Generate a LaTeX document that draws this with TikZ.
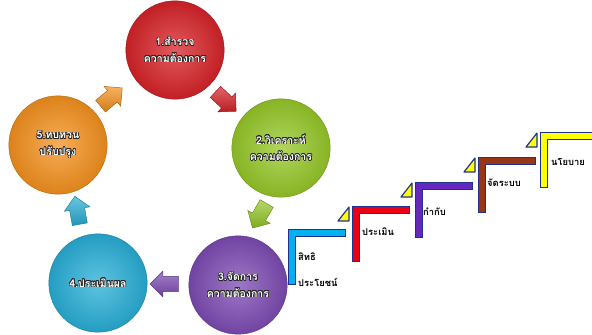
\documentclass[tikz,border=0pt]{standalone}
\usepackage{fontspec}
\usepackage{tikz}
\usetikzlibrary{calc,shapes.arrows}
\usepackage[copies]{contour}
\newfontfamily\thaifont[Script=Thai]{Loma}
\contourlength{0.5pt}

\definecolor{redball}{RGB}{215,35,40}
\definecolor{greenball}{RGB}{150,200,40}
\definecolor{purpleball}{RGB}{125,75,180}
\definecolor{cyanball}{RGB}{40,175,215}
\definecolor{orangeball}{RGB}{245,145,30}
\definecolor{stepblue}{RGB}{0,176,240}
\definecolor{stepred}{RGB}{235,0,20}
\definecolor{steppurple}{RGB}{100,40,190}
\definecolor{stepbrown}{RGB}{150,55,25}
\definecolor{stepyellow}{RGB}{255,255,0}
\definecolor{navy}{RGB}{30,50,140}

\tikzset{
	ball/.style={circle, minimum size=2.95cm, inner sep=0pt, draw=#1!75!black,
		shade, inner color=#1!75!white, outer color=#1!90!black,
		align=center, font=\thaifont\bfseries\fontsize{9}{14}\selectfont, text=white},
	blockarrow/.style={single arrow, minimum height=0.85cm,
		inner xsep=0.15cm, inner ysep=0.22cm,
		single arrow head extend=0.16cm, draw=#1!70!black,
		top color=#1!70!white, bottom color=#1!85!black},
	stepbar/.style={draw=navy, line width=0.6pt},
	flag/.style={draw=navy, fill=stepyellow, line width=1pt, line join=round},
	steplabel/.style={anchor=west, inner sep=0pt, align=left,
		font=\thaifont\bfseries\fontsize{8}{22}\selectfont}
}

\newcommand{\ctext}[1]{\contour{black!85}{#1}}

\begin{document}
\begin{tikzpicture}[x=0.03cm, y=-0.03cm]
	\useasboundingbox (0,0) rectangle (592,334);

	% Circles of the cycle
	\node[ball=redball] (c1) at (175,50) {\ctext{1.สำรวจ}\\\ctext{ความต้องการ}};
	\node[ball=greenball] (c2) at (281,148) {\ctext{2.วิเคราะห์}\\\ctext{ความต้องการ}};
	\node[ball=purpleball] (c3) at (238,285) {\ctext{3.จัดการ}\\\ctext{ความต้องการ}};
	\node[ball=cyanball] (c4) at (98,283) {\ctext{4.ประเมินผล}};
	\node[ball=orangeball] (c5) at (58,145) {\ctext{5.ทบทวน}\\\ctext{ปรับปรุง}};

	% Block arrows between the circles
	\node[blockarrow=redball, rotate=-43] (a12) at ($(c1)!0.5!(c2)+(-5,0)$) {};
	\node[blockarrow=greenball, rotate=-120] (a23) at ($(c2)!0.5!(c3)+(2,-4)$) {};
	\node[blockarrow=purpleball, rotate=180] (a34) at ($(c3)!0.5!(c4)$) {};
	\node[blockarrow=cyanball, rotate=100] (a45) at ($(c4)!0.5!(c5)$) {};
	\node[blockarrow=orangeball, rotate=40] (a51) at ($(c5)!0.5!(c1)+(-8,2)$) {};

	% Stairs
	\foreach \i/\x/\y/\col in {1/288/229/stepblue, 2/352/206/stepred,
		3/415/182/steppurple, 4/478/157/stepbrown, 5/540/132/stepyellow}{
		\coordinate (s\i) at (\x,\y);
		\filldraw[stepbar, fill=\col] (s\i) -- ++(57,0) -- ++(0,7) -- ++(-50,0)
			-- ++(0,48) -- ++(-7,0) -- cycle;
	}
	% small yellow flags in front of each step
	\foreach \i in {2,...,5}
		\filldraw[flag] ($(s\i)+(-14,15)$) -- ++(11,0) -- ++(0,-14) -- cycle;

	\node[steplabel] (t1) at ($(s1)+(10,41)$) {สิทธิ\\ประโยชน์};
	\node[steplabel] (t2) at ($(s2)+(10,26)$) {ประเมิน};
	\node[steplabel] (t3) at ($(s3)+(8,30)$) {กำกับ};
	\node[steplabel] (t4) at ($(s4)+(9,26)$) {จัดระบบ};
	\node[steplabel] (t5) at ($(s5)+(11,30)$) {นโยบาย};
\end{tikzpicture}
\end{document}
